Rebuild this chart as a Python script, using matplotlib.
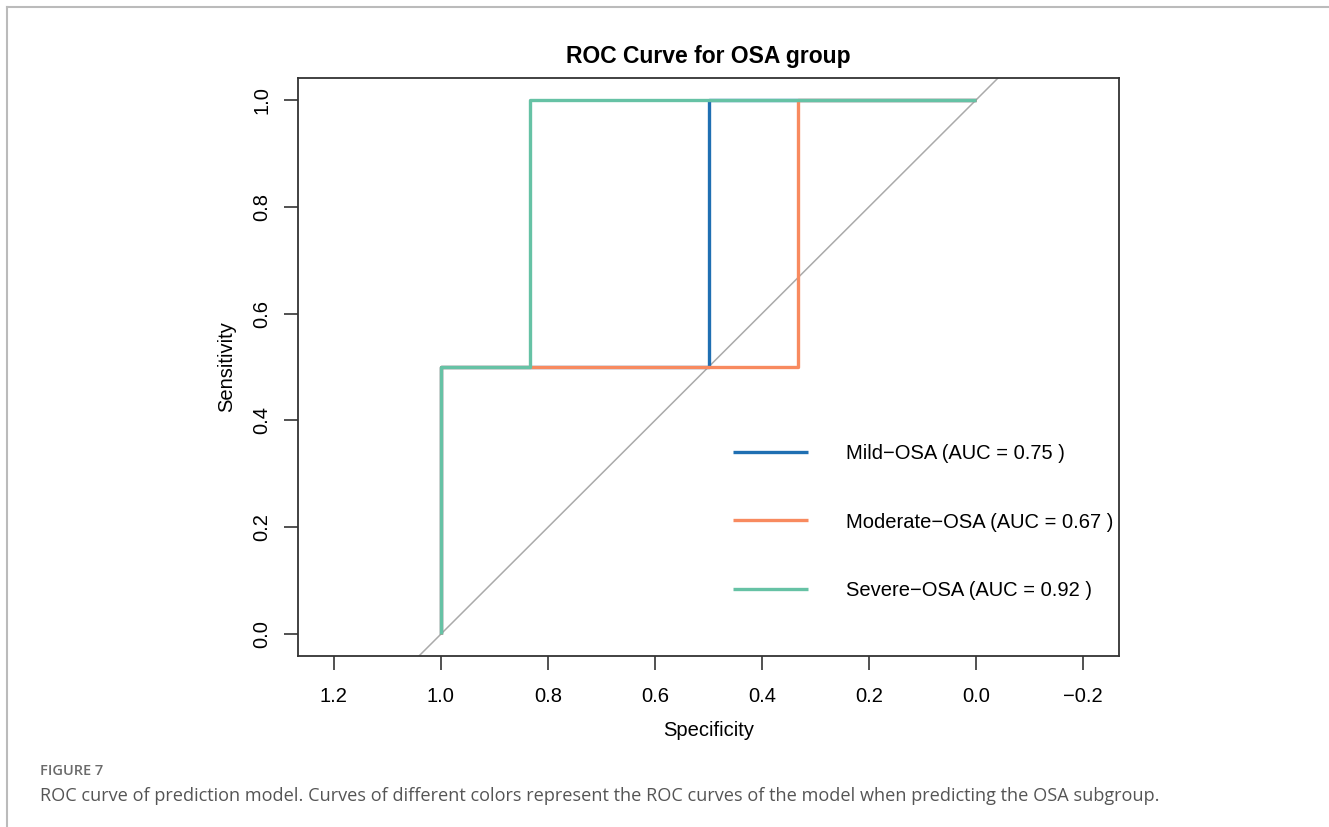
import matplotlib
matplotlib.use("Agg")
import matplotlib.pyplot as plt
from matplotlib.lines import Line2D

plt.rcParams['font.family'] = ['Liberation Sans', 'DejaVu Sans']

# Data (specificity, sensitivity step points)
series_names = ["Mild\u2212OSA", "Moderate\u2212OSA", "Severe\u2212OSA"]
auc_values = [0.75, 0.67, 0.92]
mild_spec = [1.0, 1.0, 0.5, 0.5, 0.0]
mild_sens = [0.0, 0.5, 0.5, 1.0, 1.0]
moderate_spec = [1.0, 1.0, 0.333, 0.333, 0.0]
moderate_sens = [0.0, 0.5, 0.5, 1.0, 1.0]
severe_spec = [1.0, 1.0, 0.833, 0.833, 0.0]
severe_sens = [0.0, 0.5, 0.5, 1.0, 1.0]
colors = ["#1f6fb2", "#f88a5f", "#66c2a5"]
x_ticks = [1.2, 1.0, 0.8, 0.6, 0.4, 0.2, 0.0, -0.2]
y_ticks = [0.0, 0.2, 0.4, 0.6, 0.8, 1.0]

W, H = 1329, 827
fig = plt.figure(figsize=(W / 100, H / 100), dpi=100)
ax = fig.add_axes([298 / W, 1 - 656 / H, (1119 - 298) / W, (656 - 78) / H])

ax.set_xlim(1.267, -0.267)
ax.set_ylim(-0.041, 1.041)

# diagonal reference
ax.axline((1, 0), (0, 1), color="#aaaaaa", lw=1.1, zorder=1)

specs = [mild_spec, moderate_spec, severe_spec]
sens = [mild_sens, moderate_sens, severe_sens]
for name, auc, sp, se, c in zip(series_names, auc_values, specs, sens, colors):
    ax.plot(sp, se, color=c, lw=2.4, solid_capstyle="butt",
            label=f"{name} (AUC = {auc:.2f} )", zorder=2)

def fmt(t):
    s = f"{t:.1f}"
    return s.replace("-", "\u2212")

ax.set_xticks(x_ticks)
ax.set_xticklabels([fmt(t) for t in x_ticks])
ax.set_yticks(y_ticks)
ax.set_yticklabels([fmt(t) for t in y_ticks], rotation=90, va="center")
ax.tick_params(axis="both", direction="out", length=10, width=1.2,
               color="#333333", labelsize=14.5)
ax.tick_params(axis="x", pad=12)
ax.tick_params(axis="y", pad=9)
for s in ax.spines.values():
    s.set_color("#333333")
    s.set_linewidth(1.3)

ax.set_xlabel("Specificity", fontsize=14.5, labelpad=11)
ax.set_ylabel("Sensitivity", fontsize=14.5, labelpad=12)
ax.set_title("ROC Curve for OSA group", fontsize=16.5, fontweight="bold", pad=11)

fs_px = 14.5 * 100 / 72
leg = ax.legend(loc="center left", bbox_to_anchor=(0.5298, 0.2318),
                frameon=False, fontsize=14.5, borderpad=0, borderaxespad=0,
                handlelength=75 / fs_px, handletextpad=38 / fs_px,
                labelspacing=2.45)

# page frame (top and left)
fig.add_artist(Line2D([7 / W, 1.0], [1 - 7 / H, 1 - 7 / H], color="#bbbbbb", lw=1.5))
fig.add_artist(Line2D([7 / W, 7 / W], [0.0, 1 - 7 / H], color="#bbbbbb", lw=1.5))

fig.text(40 / W, 1 - 771 / H, "FIGURE 7", fontsize=10.5, color="#6b6b6b",
         fontweight="semibold",
         family=["Open Sans", "DejaVu Sans"], va="center", ha="left")
fig.text(40 / W, 1 - 796 / H,
         "ROC curve of prediction model. Curves of different colors represent the ROC curves "
         "of the model when predicting the OSA subgroup.",
         fontsize=13.05, color="#555555", family=["Open Sans", "DejaVu Sans"],
         va="center", ha="left")

fig.savefig("out.png", dpi=100, facecolor="white")
